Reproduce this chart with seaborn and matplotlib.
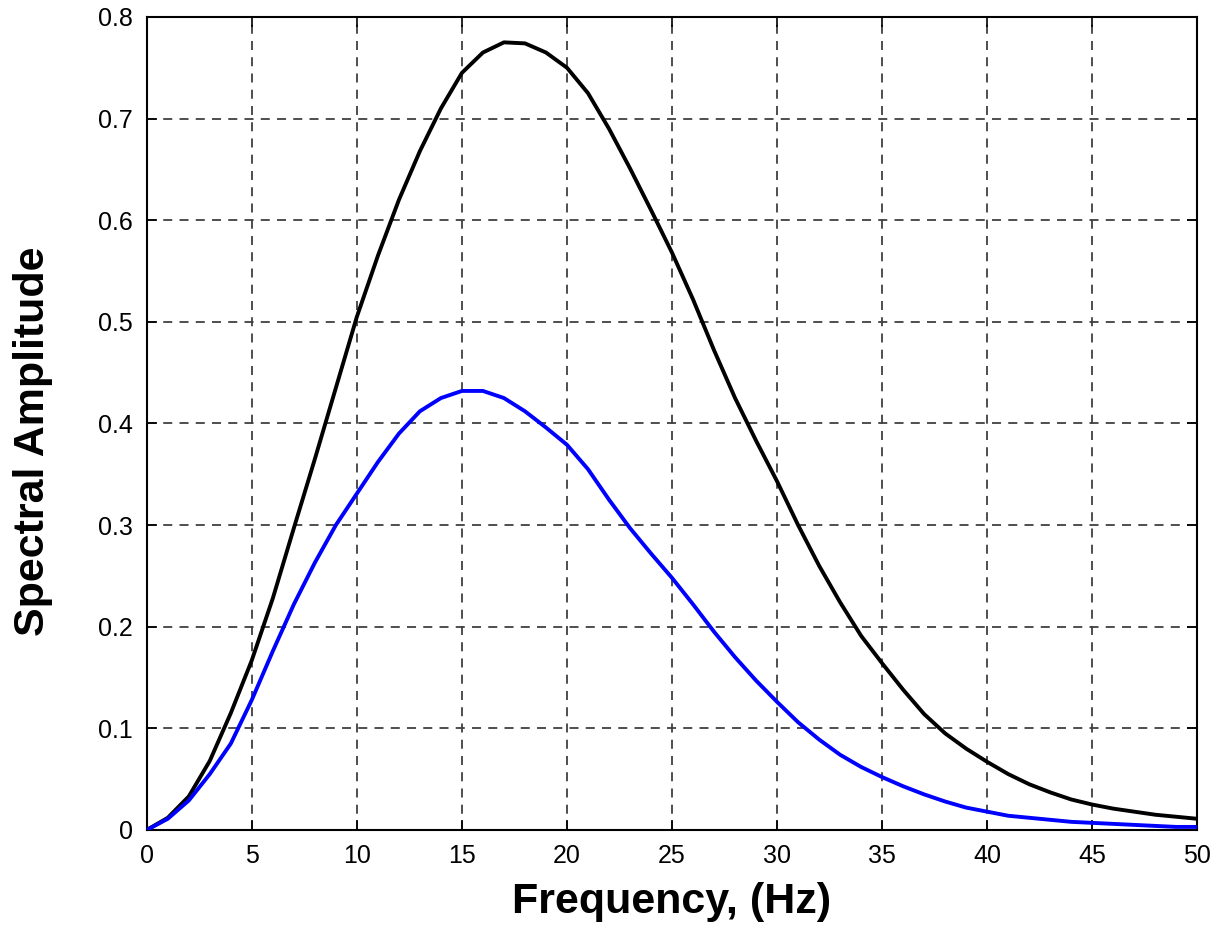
import numpy as np
import pandas as pd
import matplotlib
matplotlib.use("Agg")
import matplotlib.pyplot as plt
import seaborn as sns

freq = list(range(0, 51))
black_amp = [0.0, 0.012, 0.033, 0.068, 0.115, 0.167, 0.228, 0.297, 0.365, 0.435,
             0.505, 0.565, 0.620, 0.668, 0.710, 0.745, 0.765, 0.775, 0.774, 0.765,
             0.750, 0.725, 0.690, 0.651, 0.610, 0.568, 0.522, 0.472, 0.425, 0.383,
             0.343, 0.300, 0.260, 0.224, 0.191, 0.164, 0.138, 0.114, 0.095, 0.080,
             0.067, 0.055, 0.045, 0.037, 0.030, 0.025, 0.021, 0.018, 0.015, 0.013,
             0.011]
blue_amp = [0.0, 0.011, 0.029, 0.055, 0.085, 0.128, 0.176, 0.222, 0.263, 0.300,
            0.331, 0.362, 0.390, 0.412, 0.425, 0.432, 0.432, 0.425, 0.412, 0.396,
            0.379, 0.355, 0.325, 0.297, 0.272, 0.248, 0.222, 0.195, 0.170, 0.147,
            0.126, 0.106, 0.089, 0.074, 0.062, 0.052, 0.043, 0.035, 0.028, 0.022,
            0.018, 0.014, 0.012, 0.010, 0.008, 0.007, 0.006, 0.005, 0.004, 0.003,
            0.003]
x_ticks = list(range(0, 51, 5))
y_ticks = [0, 0.1, 0.2, 0.3, 0.4, 0.5, 0.6, 0.7, 0.8]
y_tick_labels = ["0", "0.1", "0.2", "0.3", "0.4", "0.5", "0.6", "0.7", "0.8"]

sns.set_theme(style="ticks")
plt.rcParams['font.family'] = ['Liberation Sans', 'DejaVu Sans']
plt.rcParams['text.color'] = 'black'
plt.rcParams['axes.labelcolor'] = 'black'

df = pd.DataFrame({
    "Frequency": freq * 2,
    "Amplitude": black_amp + blue_amp,
    "series": ["black"] * len(freq) + ["blue"] * len(freq),
})

fig = plt.figure(figsize=(12.23, 9.26), dpi=100)
ax = fig.add_axes([0.120, 0.1037, 0.859, 0.878])

sns.lineplot(data=df, x="Frequency", y="Amplitude", hue="series",
             palette={"black": "#000000", "blue": "#0000FF"},
             estimator=None, linewidth=2.8, legend=False, ax=ax, zorder=3)

ax.set_xlim(0, 50)
ax.set_ylim(0, 0.8)
ax.set_xticks(x_ticks)
ax.set_xticklabels([str(t) for t in x_ticks])
ax.set_yticks(y_ticks)
ax.set_yticklabels(y_tick_labels)

ax.grid(True, which="major", color="#404040", linestyle=(0, (5, 4)), linewidth=1.3, zorder=1)
ax.set_axisbelow(True)

for s in ax.spines.values():
    s.set_visible(True)
    s.set_color("black")
    s.set_linewidth(1.5)

ax.tick_params(direction="in", length=7, width=1.2, top=True, right=True,
               labelsize=18, colors="black", pad=10)

ax.set_xlabel("Frequency, (Hz)", fontsize=31, fontweight="bold", color="black", labelpad=10)
ax.set_ylabel("Spectral Amplitude", fontsize=31, fontweight="bold", color="black")
ax.yaxis.set_label_coords(-0.089, 0.478)

fig.savefig("out.png", dpi=100, facecolor="white")
